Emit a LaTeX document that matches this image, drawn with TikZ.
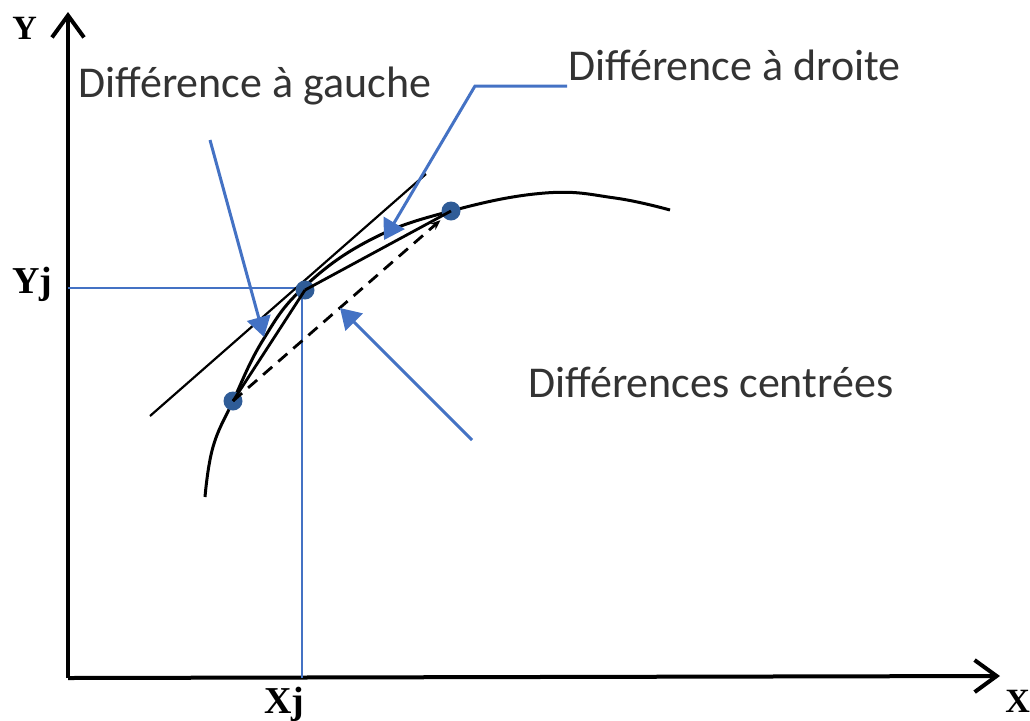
\documentclass[tikz,border=0pt]{standalone}
\usepackage{fontspec}
\setmainfont{Liberation Serif}
\setsansfont{Carlito}
\usetikzlibrary{arrows.meta}
\definecolor{officeblue}{HTML}{4472C4}
\definecolor{dotblue}{HTML}{2F5C97}
\tikzset{
  axis/.style={line width=2pt, -{Straight Barb[length=11pt,width=16pt]}},
  axislabel/.style={font=\bfseries\fontsize{17}{19}\selectfont, inner sep=0, anchor=base west},
  annot/.style={font=\sffamily\fontsize{22}{26}\selectfont, text=black!80, inner sep=0, anchor=base west},
  guide/.style={officeblue, line width=1pt},
  pointer/.style={officeblue, line width=1.5pt, -{Triangle[length=10pt,width=12pt]}},
  sample/.style={circle, fill=dotblue, inner sep=0, minimum size=9.5pt},
  courbe/.style={line width=1.5pt},
  tangente/.style={line width=1.1pt},
  corde/.style={line width=1.4pt}
}

\begin{document}
\begin{tikzpicture}[x=0.5pt, y=-0.5pt]
  \useasboundingbox (0,0) rectangle (1030,720);

  \coordinate (origin) at (68,678);
  \coordinate (ytip) at (68,12);
  \coordinate (xtip) at (1000,676);
  \coordinate (yj) at (68,288);
  \coordinate (xj) at (302,678);

  % axes
  \draw[axis] (origin) -- (ytip);
  \draw[axis] (origin) -- (xtip);
  \node[axislabel] (ylab) at (12,39) {Y};
  \node[axislabel] (xlab) at (1005,712) {X};
  \node[axislabel, font=\bfseries\fontsize{19}{21}\selectfont] (yjlab) at (12,293) {Yj};
  \node[axislabel, font=\bfseries\fontsize{19}{21}\selectfont] (xjlab) at (264,713) {Xj};

  \draw[guide] (yj) -| (xj);

  % courbe et tangente
  \draw[courbe] plot[smooth, tension=0.7] coordinates {(205,497) (213,447) (233,401) (263,340) (303,288) (370,240) (451,211) (545,193) (615,198) (670,210)};
  \coordinate (t1) at (150,416);
  \coordinate (t2) at (426,174);
  \draw[tangente] (t1) -- (t2);

  \node[sample] (pl) at (233,401) {};
  \node[sample] (pc) at (305,290) {};
  \node[sample] (pr) at (451,211) {};

  \draw[corde] (pl.center) -- (pc.center);
  \draw[corde] (pc.center) -- (pr.center);
  \draw[corde, dash pattern=on 6pt off 4pt, -{Stealth[length=5pt,width=4pt]}, shorten >=7pt] (pl.center) -- (pr.center);

  % etiquettes
  \node[annot] (gauche) at (78,97) {Différence à gauche};
  \node[annot] (droite) at (568,80) {Différence à droite};
  \node[annot] (centre) at (528,397) {Différences centrées};

  \coordinate (g0) at (210,140);
  \coordinate (g1) at (264,337);
  \coordinate (d0) at (567,86);
  \coordinate (d1) at (475,86);
  \coordinate (d2) at (384,240);
  \coordinate (c0) at (472,440);
  \coordinate (c1) at (340,308);

  \draw[pointer] (g0) -- (g1);
  \draw[pointer] (d0) -- (d1) -- (d2);
  \draw[pointer] (c0) -- (c1);
\end{tikzpicture}
\end{document}
